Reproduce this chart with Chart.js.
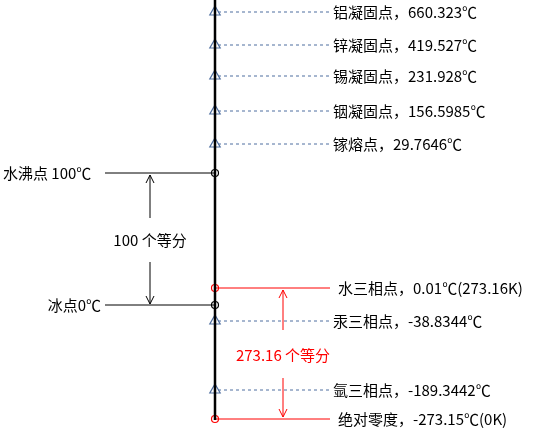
<!DOCTYPE html>
<html><head><meta charset="utf-8">
<script src="https://cdn.jsdelivr.net/npm/chart.js@4"></script>
<style>html,body{margin:0;padding:0;background:#fff}#w{width:540px;height:433px}</style>
</head><body><div id="w"><canvas id="c"></canvas></div>
<script>
// Fixed points (labels) and their position along the (non-linear) thermometer, in row units
const blueLabels = ["铝凝固点，660.323℃","锌凝固点，419.527℃","锡凝固点，231.928℃","铟凝固点，156.5985℃","镓熔点，29.7646℃","汞三相点，-38.8344℃","氩三相点，-189.3442℃"];
const blueLevels = [12,45,76,111,144,321,390];
const redLabels = ["水三相点，0.01℃(273.16K)","绝对零度，-273.15℃(0K)"];
const redLevels = [288,419];
const blackLabels = ["水沸点 100℃","冰点0℃"];
const blackLevels = [173,305];
const divLabels = ["100 个等分","273.16 个等分"];

const COL_AXIS=215, COL_TICK=330, COL_LEFT=105;
const ds=[];
ds.push({data:[{x:COL_AXIS,y:0},{x:COL_AXIS,y:420}],showLine:true,borderColor:'#000',borderWidth:2.5,pointRadius:0});
blueLevels.forEach(v=>ds.push({data:[{x:COL_AXIS+3,y:v},{x:COL_TICK,y:v}],showLine:true,borderColor:'#4f6fa0',borderWidth:1,borderDash:[3,3],pointRadius:0}));
redLevels.forEach(v=>ds.push({data:[{x:COL_AXIS,y:v},{x:COL_TICK,y:v}],showLine:true,borderColor:'#ff0000',borderWidth:1,pointRadius:0}));
blackLevels.forEach(v=>ds.push({data:[{x:COL_LEFT,y:v},{x:COL_AXIS,y:v}],showLine:true,borderColor:'#000',borderWidth:1,pointRadius:0}));
ds.push({data:blueLevels.map(v=>({x:COL_AXIS,y:v})),showLine:false,pointStyle:'triangle',pointRadius:6,borderColor:'#4f6fa0',backgroundColor:'#fff',borderWidth:1.2});
ds.push({data:redLevels.map(v=>({x:COL_AXIS,y:v})),showLine:false,pointStyle:'circle',pointRadius:3.5,borderColor:'#ff0000',backgroundColor:'#fff',borderWidth:1.2});
ds.push({data:blackLevels.map(v=>({x:COL_AXIS,y:v})),showLine:false,pointStyle:'circle',pointRadius:3.5,borderColor:'#000',backgroundColor:'#fff',borderWidth:1.2});

const textPlugin={id:'t',afterDatasetsDraw(ch){
  const c=ch.ctx,xs=ch.scales.x,ys=ch.scales.y;
  c.save();c.font='15px "Noto Sans CJK SC"';c.textBaseline='middle';
  c.fillStyle='#000';c.textAlign='left';
  blueLabels.forEach((t,i)=>c.fillText(t,xs.getPixelForValue(333),ys.getPixelForValue(blueLevels[i])));
  redLabels.forEach((t,i)=>c.fillText(t,xs.getPixelForValue(338),ys.getPixelForValue(redLevels[i])));
  c.textAlign='left';c.fillText(blackLabels[0],xs.getPixelForValue(3),ys.getPixelForValue(blackLevels[0]));
  c.textAlign='right';c.fillText(blackLabels[1],xs.getPixelForValue(101),ys.getPixelForValue(blackLevels[1]));
  function arrow(x,y1,y2,col){const X=xs.getPixelForValue(x),A=ys.getPixelForValue(y1),B=ys.getPixelForValue(y2);
    c.strokeStyle=col;c.lineWidth=1;c.beginPath();c.moveTo(X,A);c.lineTo(X,B);
    const d=B>A?-1:1;c.moveTo(X-4,B+d*8);c.lineTo(X,B);c.lineTo(X+4,B+d*8);c.stroke();}
  arrow(150,218,175,'#000');arrow(150,262,304,'#000');
  arrow(283,330,290,'#ff0000');arrow(283,378,417,'#ff0000');
  c.textAlign='center';c.fillStyle='#000';c.fillText(divLabels[0],xs.getPixelForValue(150),ys.getPixelForValue(240));
  c.fillStyle='#ff0000';c.fillText(divLabels[1],xs.getPixelForValue(283),ys.getPixelForValue(355));
  c.restore();}};

new Chart(document.getElementById('c'),{type:'scatter',data:{datasets:ds},
 options:{responsive:true,maintainAspectRatio:false,animation:false,layout:{padding:0,autoPadding:false},
  plugins:{legend:{display:false},tooltip:{enabled:false}},
  scales:{x:{type:'linear',min:0,max:540,display:false},y:{type:'linear',min:0,max:433,reverse:true,display:false}}},
 plugins:[textPlugin]});
</script></body></html>
